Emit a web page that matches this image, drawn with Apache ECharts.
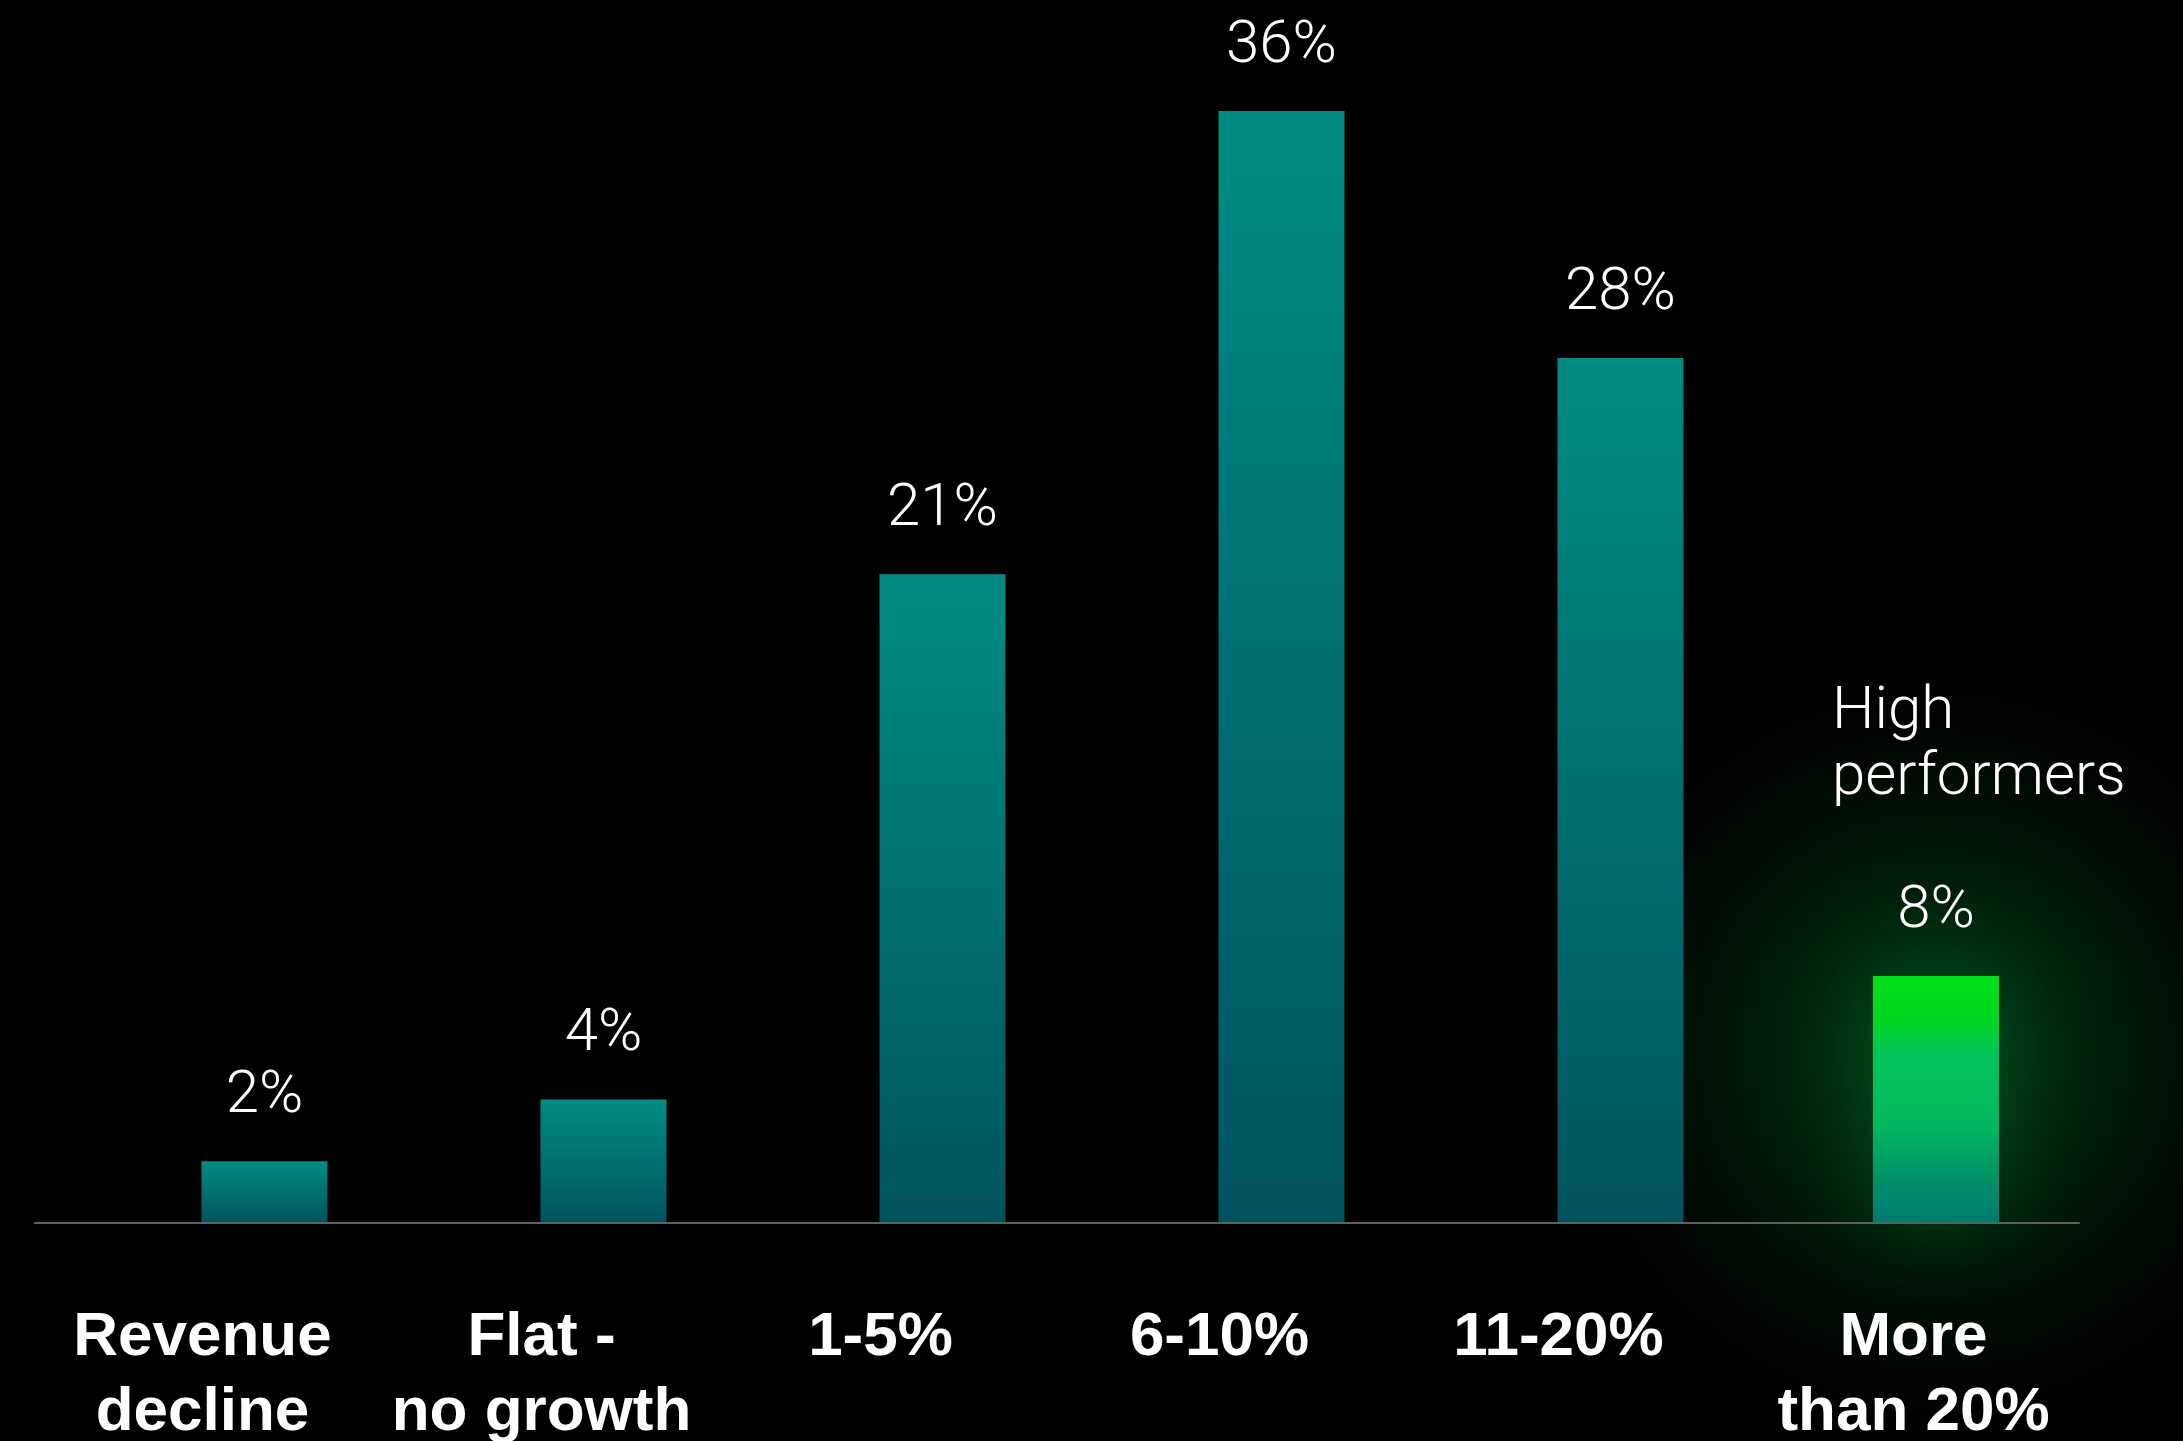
<!DOCTYPE html>
<html>
<head>
<meta charset="utf-8">
<script src="https://cdn.jsdelivr.net/npm/echarts@6/dist/echarts.min.js"></script>
<style>
  html, body { margin: 0; padding: 0; background: #000; }
  #chart { width: 2183px; height: 1441px; }
</style>
</head>
<body>
<div id="chart"></div>
<script>
// ---- data ----
const categories = ['Revenue\ndecline', 'Flat -\nno growth', '1-5%', '6-10%', '11-20%', 'More\nthan 20%'];
const shares = [2, 4, 21, 36, 28, 8];
const highlightCategory = 'More\nthan 20%';
const highlightNote = 'High\nperformers';
const yMax = 36;

(function () {
// ---- derived ----
const highlightIdx = categories.indexOf(highlightCategory);
const baseValues = shares.map((v, i) => (i === highlightIdx ? '-' : v));
const highValues = shares.map((v, i) => (i === highlightIdx ? v : '-'));
const labelData = categories.map((c, i) =>
  i === highlightIdx ? { value: c, textStyle: { padding: [0, 0, 0, 32] } } : c);

const chart = echarts.init(document.getElementById('chart'), null, { renderer: 'canvas' });

const GRID_TOP = 111, GRID_BOTTOM = 218;
const gridBox = (left, right) => ({
  left: left, right: right, top: GRID_TOP, bottom: GRID_BOTTOM,
  containLabel: false, outerBoundsMode: 'none'
});
const valueLabel = {
  show: true,
  position: 'top',
  distance: 34,
  color: '#ffffff',
  fontFamily: 'Roboto',
  fontWeight: 300,
  fontSize: 60,
  lineHeight: 60,
  formatter: p => p.value + '%'
};

const hiddenX = i => ({ type: 'category', gridIndex: i, data: categories, show: false });
const hiddenY = i => ({ type: 'value', gridIndex: i, min: 0, max: yMax, show: false });
const noteText = {
  type: 'text', left: 1832, top: 680, z: 10,
  style: { text: highlightNote, fill: '#ffffff', font: '300 60px Roboto', lineHeight: 66 }
};

chart.setOption({
  backgroundColor: '#000000',
  animation: false,
  grid: [
    gridBox(35, 104),    // axis line
    gridBox(33, 116),    // category labels
    gridBox(95, 54),     // base bars
    gridBox(71.5, 77.5)  // highlight bar
  ],
  xAxis: [
    {
      type: 'category', gridIndex: 0, data: categories, z: 3,
      axisLine: { show: true, lineStyle: { color: '#606060', width: 2 } },
      axisTick: { show: false }, axisLabel: { show: false }, splitLine: { show: false }
    },
    {
      type: 'category', gridIndex: 1, data: labelData,
      axisLine: { show: false }, axisTick: { show: false }, splitLine: { show: false },
      axisLabel: {
        show: true, interval: 0, margin: 77, hideOverlap: false,
        color: '#ffffff', fontFamily: 'Liberation Sans', fontWeight: 'bold',
        fontSize: 62, lineHeight: 75, align: 'center'
      }
    },
    hiddenX(2),
    hiddenX(3)
  ],
  yAxis: [hiddenY(0), hiddenY(1), hiddenY(2), hiddenY(3)],
  series: [
    {
      name: 'Share', type: 'bar', xAxisIndex: 2, yAxisIndex: 2,
      data: baseValues, barWidth: 126, z: 2,
      itemStyle: {
        color: new echarts.graphic.LinearGradient(0, 0, 0, 1, [
          { offset: 0, color: '#008c84' },
          { offset: 1, color: '#00535f' }
        ])
      },
      label: valueLabel
    },
    {
      name: 'High performers', type: 'bar', xAxisIndex: 3, yAxisIndex: 3,
      data: highValues, barWidth: 126, z: 2,
      itemStyle: {
        color: new echarts.graphic.LinearGradient(0, 0, 0, 1, [
          { offset: 0, color: '#00e01a' },
          { offset: 0.17, color: '#00d61e' },
          { offset: 0.32, color: '#00c45a' },
          { offset: 0.6, color: '#00b860' },
          { offset: 0.85, color: '#008c68' },
          { offset: 1, color: '#007a72' }
        ]),
        shadowColor: 'rgba(0, 200, 70, 0.2)',
        shadowBlur: 80
      },
      label: valueLabel
    }
  ],
  graphic: [noteText]
});

// glow behind the highlighted bar, positioned through the axis scales
const hv = shares[highlightIdx];
const pTop = chart.convertToPixel({ xAxisIndex: 3, yAxisIndex: 3 }, [highlightIdx, hv]);
const pBase = chart.convertToPixel({ xAxisIndex: 3, yAxisIndex: 3 }, [highlightIdx, 0]);
const cx = pTop[0];
const cy = pTop[1] + (pBase[1] - pTop[1]) * 0.3;
const r = 380;
chart.setOption({
  graphic: [
    noteText,
    {
      type: 'circle', z: -1, silent: true,
      shape: { cx: cx, cy: cy, r: r },
      style: {
        fill: new echarts.graphic.RadialGradient(0.5, 0.5, 0.5, [
          { offset: 0, color: 'rgba(0,240,80,0.24)' },
          { offset: 0.25, color: 'rgba(0,240,80,0.18)' },
          { offset: 0.45, color: 'rgba(0,240,80,0.12)' },
          { offset: 0.65, color: 'rgba(0,240,80,0.065)' },
          { offset: 0.82, color: 'rgba(0,240,80,0.025)' },
          { offset: 1, color: 'rgba(0,240,80,0)' }
        ])
      }
    }
  ]
}, { replaceMerge: ['graphic'] });
})();
</script>
</body>
</html>
